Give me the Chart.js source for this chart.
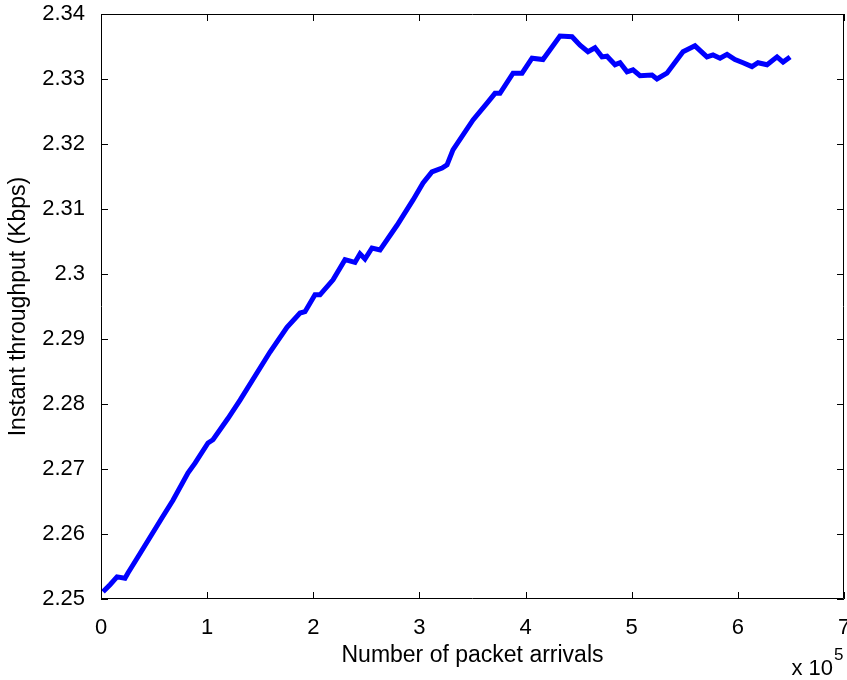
<!DOCTYPE html>
<html>
<head>
<meta charset="utf-8">
<script src="https://cdn.jsdelivr.net/npm/chart.js@4/dist/chart.umd.min.js"></script>
<style>
  html, body { margin: 0; padding: 0; background: #ffffff; }
  #wrap { width: 847px; height: 680px; }
</style>
</head>
<body>
<div id="wrap"><canvas id="c" width="847" height="680"></canvas></div>
<script>
// Packet arrival counts (raw) and the instant throughput measured at each one
const arrivals = [
  1900, 8500, 15100, 22600, 25400, 34900, 46200, 57500, 67800, 82000,
  88600, 100800, 105500, 119700, 131000, 159200, 175200, 187500, 192200, 201600,
  206300, 218600, 229900, 239300, 244000, 248700, 255300, 262900, 278900, 294000,
  303400, 311800, 321300, 326000, 331600, 350500, 363700, 371200, 375900, 388200,
  396700, 406100, 416400, 432400, 443800, 451300, 458800, 465400, 472000, 476700,
  484300, 489000, 495600, 501200, 507800, 519100, 523800, 533200, 548300, 559600,
  570900, 576600, 583200, 589800, 597300, 604900, 613300, 619000, 627500, 636900,
  642600, 649200
];
const throughputKbps = [
  2.2511, 2.2522, 2.2534, 2.2532, 2.2540, 2.2565, 2.2595, 2.2625, 2.2652, 2.2694,
  2.2709, 2.2740, 2.2745, 2.2778, 2.2806, 2.2880, 2.2918, 2.2940, 2.2942, 2.2968,
  2.2968, 2.2991, 2.3022, 2.3018, 2.3031, 2.3023, 2.3040, 2.3037, 2.3075, 2.3114,
  2.3140, 2.3157, 2.3163, 2.3168, 2.3191, 2.3237, 2.3263, 2.3278, 2.3278, 2.3309,
  2.3309, 2.3332, 2.3330, 2.3366, 2.3365, 2.3352, 2.3342, 2.3348, 2.3334, 2.3335,
  2.3322, 2.3325, 2.3311, 2.3314, 2.3305, 2.3306, 2.3300, 2.3309, 2.3342, 2.3351,
  2.3334, 2.3337, 2.3332, 2.3338, 2.3330, 2.3325, 2.3319, 2.3325, 2.3322, 2.3334,
  2.3326, 2.3334
];

// Axis settings
const xTickStep = 100000;
const xRange = [0, 700000];
const yTickStep = 0.01;
const yRange = [2.25, 2.34];
const xTitle = 'Number of packet arrivals';
const yTitle = 'Instant throughput (Kbps)';
const xExponentBase = 'x 10';
const xExponent = '5';

const FONT = '"Liberation Sans", Arial, Helvetica, sans-serif';
const TITLE_SIZE = 23;
const TICK_SIZE = 22;

// Boxed frame with inward ticks on all four sides, plus the x-axis multiplier
const framePlugin = {
  id: 'frame',
  afterDraw(chart) {
    const { ctx, chartArea: a, scales } = chart;
    const len = 7;
    ctx.save();
    ctx.strokeStyle = '#000';
    ctx.lineWidth = 1;
    ctx.beginPath();
    ctx.rect(a.left + 0.5, a.top + 0.5, a.right - a.left - 1, a.bottom - a.top - 1);
    scales.x.ticks.forEach(t => {
      const px = Math.round(scales.x.getPixelForValue(t.value)) + 0.5;
      ctx.moveTo(px, a.bottom); ctx.lineTo(px, a.bottom - len);
      ctx.moveTo(px, a.top); ctx.lineTo(px, a.top + len);
    });
    scales.y.ticks.forEach(t => {
      const py = Math.round(scales.y.getPixelForValue(t.value)) + 0.5;
      ctx.moveTo(a.left, py); ctx.lineTo(a.left + len, py);
      ctx.moveTo(a.right, py); ctx.lineTo(a.right - len, py);
    });
    ctx.stroke();

    ctx.fillStyle = '#000';
    ctx.textBaseline = 'alphabetic';
    ctx.textAlign = 'right';
    ctx.font = TICK_SIZE + 'px ' + FONT;
    const baseRight = a.right - 11;
    ctx.fillText(xExponentBase, baseRight, 675);
    ctx.textAlign = 'left';
    ctx.font = '17px ' + FONT;
    ctx.fillText(xExponent, baseRight + 1, 660);
    ctx.restore();
  }
};

new Chart(document.getElementById('c'), {
  type: 'line',
  data: {
    datasets: [{
      data: arrivals.map((x, i) => ({ x, y: throughputKbps[i] })),
      borderColor: '#0000ff',
      borderWidth: 5,
      pointRadius: 0,
      tension: 0,
      fill: false
    }]
  },
  options: {
    responsive: false,
    animation: false,
    devicePixelRatio: 1,
    layout: { padding: { top: 14, right: 3, left: 0, bottom: 0 } },
    plugins: { legend: { display: false }, tooltip: { enabled: false } },
    scales: {
      x: {
        type: 'linear',
        min: xRange[0], max: xRange[1],
        grid: { display: false },
        border: { display: false },
        ticks: {
          stepSize: xTickStep,
          color: '#000',
          font: { family: FONT, size: TICK_SIZE },
          padding: 8,
          maxRotation: 0,
          callback: v => String(v / 100000)
        },
        title: {
          display: true, text: xTitle, color: '#000',
          font: { family: FONT, size: TITLE_SIZE },
          padding: { top: 0, bottom: 11 }
        },
        afterFit: s => {
          s.height = 81;
          s.paddingLeft = 0; s.paddingRight = 0;
        }
      },
      y: {
        type: 'linear',
        min: yRange[0], max: yRange[1],
        grid: { display: false },
        border: { display: false },
        ticks: {
          stepSize: yTickStep,
          color: '#000',
          font: { family: FONT, size: TICK_SIZE },
          padding: 8,
          callback: v => String(Number(v.toFixed(2)))
        },
        title: {
          display: true, text: yTitle, color: '#000',
          font: { family: FONT, size: TITLE_SIZE },
          padding: { top: 5, bottom: 0 }
        },
        afterFit: s => {
          s.width = 101;
          s.paddingTop = 0; s.paddingBottom = 0;
        }
      }
    }
  },
  plugins: [framePlugin]
});
</script>
</body>
</html>
